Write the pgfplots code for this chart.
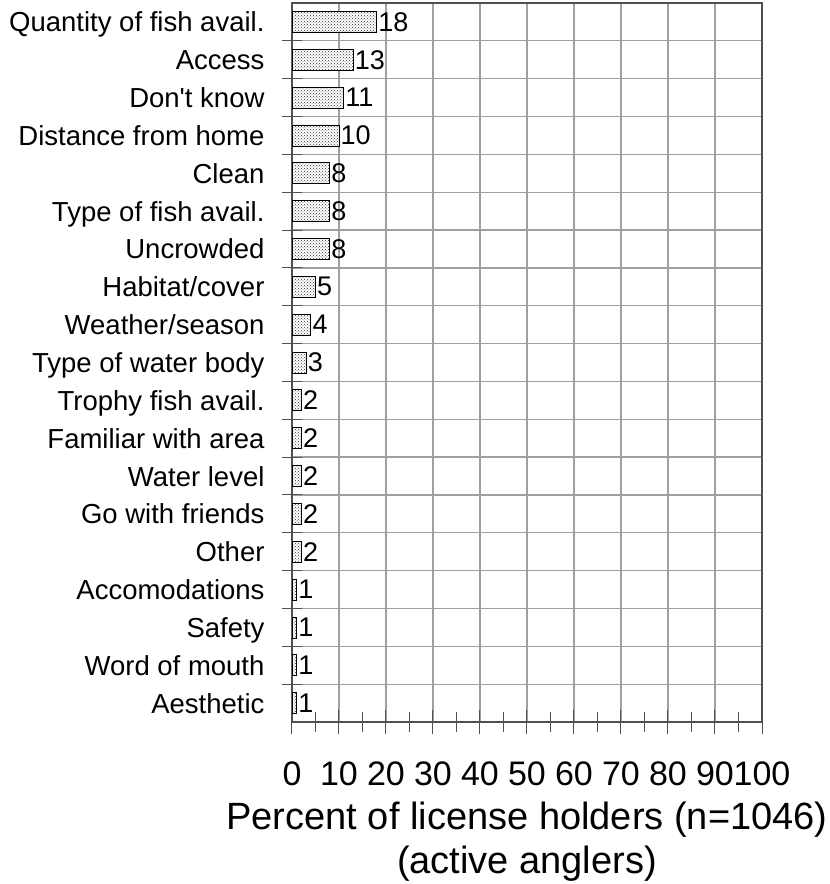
\documentclass[border=0pt]{standalone}
\usepackage{pgfplots}
\pgfplotsset{compat=1.18}
\usepackage{fontspec}
\setmainfont{Liberation Sans}
\usetikzlibrary{patterns}
\definecolor{gridgray}{RGB}{160,160,160}
\definecolor{axisdark}{RGB}{80,80,80}
\begin{document}
\begin{tikzpicture}
\begin{axis}[
  scale only axis,
  width=470pt, height=719pt,
  xbar, bar width=21pt,
  xmin=0, xmax=100,
  ymin=-0.5, ymax=18.5,
  y dir=reverse,
  axis line style={axisdark, line width=1.3pt},
  xtick={0,10,...,100},
  minor xtick={5,15,...,95},
  ytick={0,...,18},
  minor ytick={0.5,1.5,...,17.5},
  yticklabels={Quantity of fish avail.,Access,Don\textquotesingle t know,Distance from home,Clean,Type of fish avail.,Uncrowded,Habitat/cover,Weather/season,Type of water body,Trophy fish avail.,Familiar with area,Water level,Go with friends,Other,Accomodations,Safety,Word of mouth,Aesthetic},
  xmajorgrids, yminorgrids,
  grid style={gridgray, line width=1.3pt},
  minor grid style={gridgray, line width=1.3pt},
  major tick style={axisdark, line width=1pt},
  minor tick style={axisdark, line width=1pt},
  every major y tick/.append style={draw=none},
  xtick pos=bottom,
  ytick pos=left,
  tick align=center,
  major tick length=24pt,
  minor tick length=20pt,
  yticklabel style={font=\fontsize{27.5}{32}\selectfont, anchor=east, xshift=-12pt, text height=22pt, text depth=2pt},
  xticklabel style={font=\fontsize{34}{40}\selectfont, yshift=-24pt},
  /pgf/number format/assume math mode=true,
  xlabel={Percent of license holders (n=1046)\\(active anglers)},
  xlabel style={font=\fontsize{38}{44}\selectfont, align=center, yshift=-9pt},
  nodes near coords,
  nodes near coords style={font=\fontsize{27}{32}\selectfont, anchor=west, xshift=-2pt},
]
\addplot[draw=black, line width=0.8pt, fill=white, postaction={pattern=crosshatch dots, pattern color=black!80}] coordinates {
(18,0) (13,1) (11,2) (10,3) (8,4) (8,5) (8,6) (5,7) (4,8) (3,9)
(2,10) (2,11) (2,12) (2,13) (2,14) (1,15) (1,16) (1,17) (1,18)};
\end{axis}
\pgfresetboundingbox
\path[use as bounding box] (-292pt,-162pt) rectangle (538pt,722pt);
\end{tikzpicture}
\end{document}
